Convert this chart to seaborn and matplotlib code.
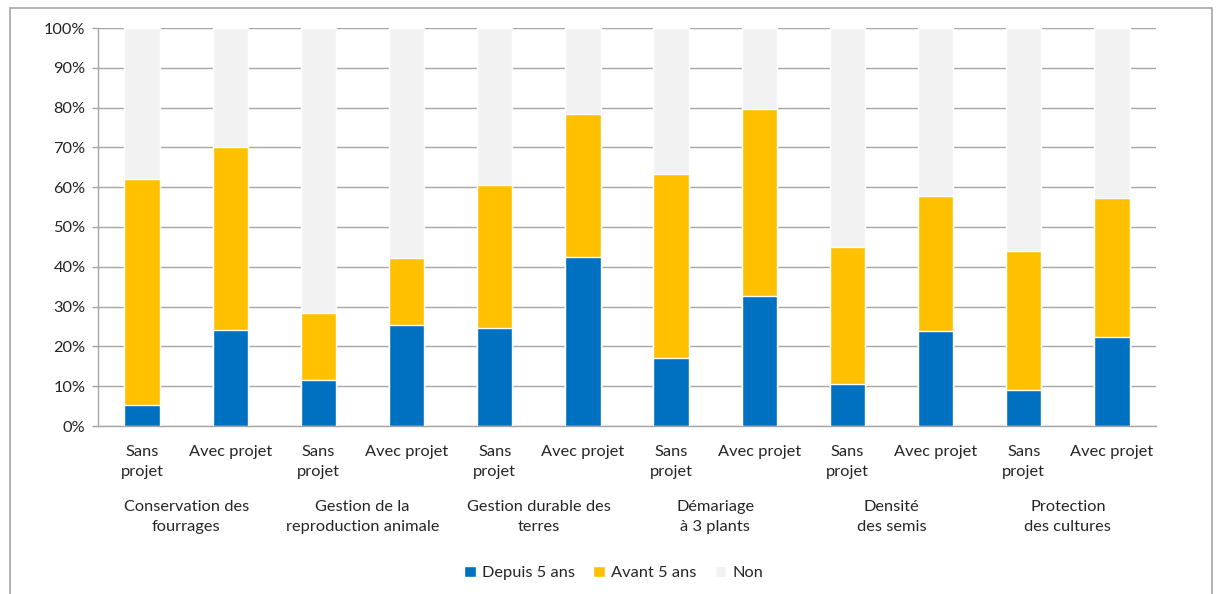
import numpy as np
import pandas as pd
import matplotlib
matplotlib.use("Agg")
import matplotlib.pyplot as plt
import matplotlib.transforms as mtransforms
from matplotlib.patches import Rectangle, Patch
import seaborn as sns

# Adoption shares (%) per practice, without / with the project
groups = ["Conservation des\nfourrages", "Gestion de la\nreproduction animale",
          "Gestion durable des\nterres", "Démariage\nà 3 plants",
          "Densité\ndes semis", "Protection\ndes cultures"]
bar_labels = ["Sans\nprojet", "Avec projet"] * 6
depuis_5_ans = [5.4, 24.1, 11.6, 25.4, 24.7, 42.5, 17.2, 32.7, 10.6, 23.9, 9.1, 22.4]
avant_5_ans = [56.7, 46.0, 16.9, 16.8, 35.9, 35.9, 46.1, 46.9, 34.5, 33.8, 34.9, 34.8]
non = [37.9, 29.9, 71.5, 57.8, 39.4, 21.6, 36.7, 20.4, 54.9, 42.3, 56.0, 42.8]

BLUE, YELLOW, GREY = "#0070C0", "#FFC000", "#F2F2F2"
TEXT = "#262626"
FS = 11.8

sns.set_theme(style="white")
plt.rcParams["font.family"] = ["Lato", "DejaVu Sans"]

df = pd.DataFrame({
    "pos": [str(i) for i in range(len(bar_labels))],
    "depuis": depuis_5_ans,
    "avant": avant_5_ans,
    "non": non,
})
df["top_avant"] = df["depuis"] + df["avant"]
df["top_non"] = df["top_avant"] + df["non"]

fig = plt.figure(figsize=(12.16, 5.94), dpi=100)
ax = fig.add_axes([98 / 1216, 1 - 426 / 594, (1156 - 98) / 1216, (426 - 28) / 594])

# stacked bars: draw cumulative heights back to front
sns.barplot(data=df, x="pos", y="top_non", color=GREY, width=0.4, ax=ax,
            saturation=1, zorder=2)
sns.barplot(data=df, x="pos", y="top_avant", color=YELLOW, width=0.4, ax=ax,
            saturation=1, zorder=3)
sns.barplot(data=df, x="pos", y="depuis", color=BLUE, width=0.4, ax=ax,
            saturation=1, zorder=4)

ax.set_xlim(-0.5, len(bar_labels) - 0.5)
ax.set_ylim(0, 100)
ax.set_yticks(np.arange(0, 101, 10))
ax.set_yticklabels([f"{v}%" for v in range(0, 101, 10)], fontsize=FS, color=TEXT)
ax.yaxis.grid(True, color="#A6A6A6", linewidth=1, zorder=0)
ax.set_axisbelow(True)
ax.tick_params(axis="y", length=4, width=1, color="#A6A6A6", pad=5, left=True)
ax.tick_params(axis="x", length=0, pad=0)
ax.set_xticks(range(len(bar_labels)))
ax.set_xticklabels([])
ax.set_xlabel("")
ax.set_ylabel("")
for side in ["top", "right"]:
    ax.spines[side].set_visible(False)
for side in ["left", "bottom"]:
    ax.spines[side].set_color("#A6A6A6")
    ax.spines[side].set_linewidth(1)

trans = mtransforms.blended_transform_factory(ax.transData, fig.transFigure)
for i, lab in enumerate(bar_labels):
    ax.text(i, 1 - 445 / 594, lab, transform=trans, ha="center", va="top",
            fontsize=FS, color=TEXT, linespacing=1.55)
for g, name in enumerate(groups):
    ax.text(2 * g + 0.5, 1 - 517 / 594, name, transform=trans, ha="center",
            va="center", fontsize=FS, color=TEXT, linespacing=1.6)

handles = [Patch(facecolor=BLUE, label="Depuis 5 ans"),
           Patch(facecolor=YELLOW, label="Avant 5 ans"),
           Patch(facecolor=GREY, label="Non")]
fig.legend(handles=handles, loc="center", bbox_to_anchor=(614 / 1216, 1 - 573 / 594),
           ncol=3, frameon=False, fontsize=FS, handlelength=0.7, handleheight=0.7,
           handletextpad=0.4, columnspacing=1.1, labelcolor=TEXT)

# outer chart frame
fig.patches.append(Rectangle((10 / 1216, -0.02), (1212 - 10) / 1216, 1.02 - 8 / 594,
                             transform=fig.transFigure, fill=False,
                             edgecolor="#A6A6A6", linewidth=1.2))

fig.savefig("out.png", dpi=100, facecolor="white")
